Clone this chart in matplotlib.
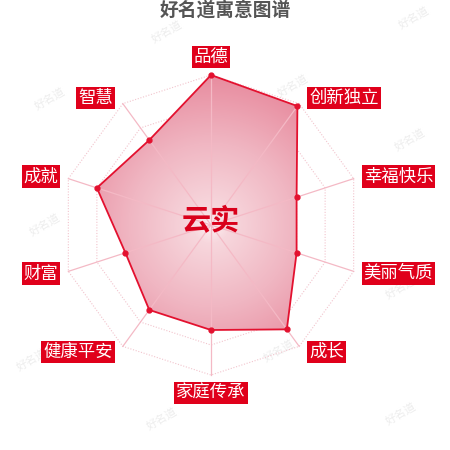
import numpy as np
import matplotlib.pyplot as plt
from matplotlib.colors import LinearSegmentedColormap
from matplotlib.patches import Polygon

plt.rcParams['font.family'] = ['Noto Sans CJK SC', 'DejaVu Sans']

title = '好名道寓意图谱'
name = '云实'
labels = ['品德', '创新独立', '幸福快乐', '美丽气质', '成长',
          '家庭传承', '健康平安', '财富', '成就', '智慧']
values = [100, 98, 60, 60, 86, 70, 70, 60, 80, 70]
max_value = 100
rings = [20, 40, 60, 80, 100]

# pixel-like units: radius 150 at max value
R = 150
cx, cy = 211, 225
n = len(labels)
ang = np.pi / 2 - np.arange(n) * 2 * np.pi / n
r = np.array(values) / max_value * R
px = r * np.cos(ang)
py = r * np.sin(ang)

fig = plt.figure(figsize=(4.5, 4.5), dpi=100)
ax = fig.add_axes([0, 0, 1, 1])
ax.set_zorder(1)
ax.set_xlim(-cx, 450 - cx)
ax.set_ylim(cy - 450, cy)
ax.set_aspect('equal')
ax.axis('off')

# watermark
wm = [(0.37, 0.93), (0.92, 0.96), (0.11, 0.78), (0.65, 0.81), (0.91, 0.69),
      (0.10, 0.50), (0.89, 0.36), (0.07, 0.20), (0.62, 0.22), (0.36, 0.07),
      (0.89, 0.08)]
for (wx, wy) in wm:
    fig.text(wx, wy, '好名道', fontsize=8, color='#ededed', rotation=30,
             ha='center', va='center', zorder=0)

# grid rings
for lv in rings:
    rr = lv / max_value * R
    gx = np.append(rr * np.cos(ang), rr * np.cos(ang[0]))
    gy = np.append(rr * np.sin(ang), rr * np.sin(ang[0]))
    ax.plot(gx, gy, color='#f2c4cd', lw=0.8, ls=(0, (1, 1.5)), zorder=1)

# gradient fill clipped to polygon
cmap = LinearSegmentedColormap.from_list(
    'pink', [(0, '#fcf0f2'), (0.12, '#f7d7dd'), (0.55, '#f0b6c2'),
             (1, '#e88c9f')])
gxx, gyy = np.meshgrid(np.linspace(-R, R, 300), np.linspace(-R, R, 300))
dist = np.sqrt(gxx ** 2 + gyy ** 2) / R
poly = Polygon(np.column_stack([px, py]), closed=True, fc='none', ec='none')
ax.add_patch(poly)
img = ax.imshow(dist, cmap=cmap, vmin=0, vmax=1, extent=(-R, R, -R, R),
                origin='lower', zorder=2, interpolation='bilinear')
img.set_clip_path(poly)

# axis lines
for a in ang:
    ax.plot([0, R * np.cos(a)], [0, R * np.sin(a)], color='#f4b9c5',
            lw=0.9, zorder=3)

# outline and points
ax.plot(np.append(px, px[0]), np.append(py, py[0]), color='#e3112f',
        lw=1.3, zorder=4)
ax.plot(px, py, 'o', color='#e3112f', ms=3.5, zorder=5)

# labels
for lab, a in zip(labels, ang):
    c, s = np.cos(a), np.sin(a)
    if abs(c) < 0.01:
        tx, ty, ha = 0, (R + 18) * s, 'center'
    else:
        ha = 'left' if c > 0 else 'right'
        tx = R * c + 10 * np.sign(c)
        ty = R * s + 7 * s
    ax.text(tx, ty, lab, ha=ha, va='center', fontsize=12.5, color='white',
            zorder=6,
            bbox=dict(boxstyle='square,pad=0.12', fc='#e0001b', ec='none'))

ax.text(0, 4, name, ha='center', va='center', fontsize=21,
        fontweight='bold', color='#d9001b', zorder=7)

fig.text(0.5, 0.977, title, ha='center', va='center', fontsize=13.5,
         fontweight='bold', color='#555555', zorder=2)

fig.savefig('out.png', dpi=100)
